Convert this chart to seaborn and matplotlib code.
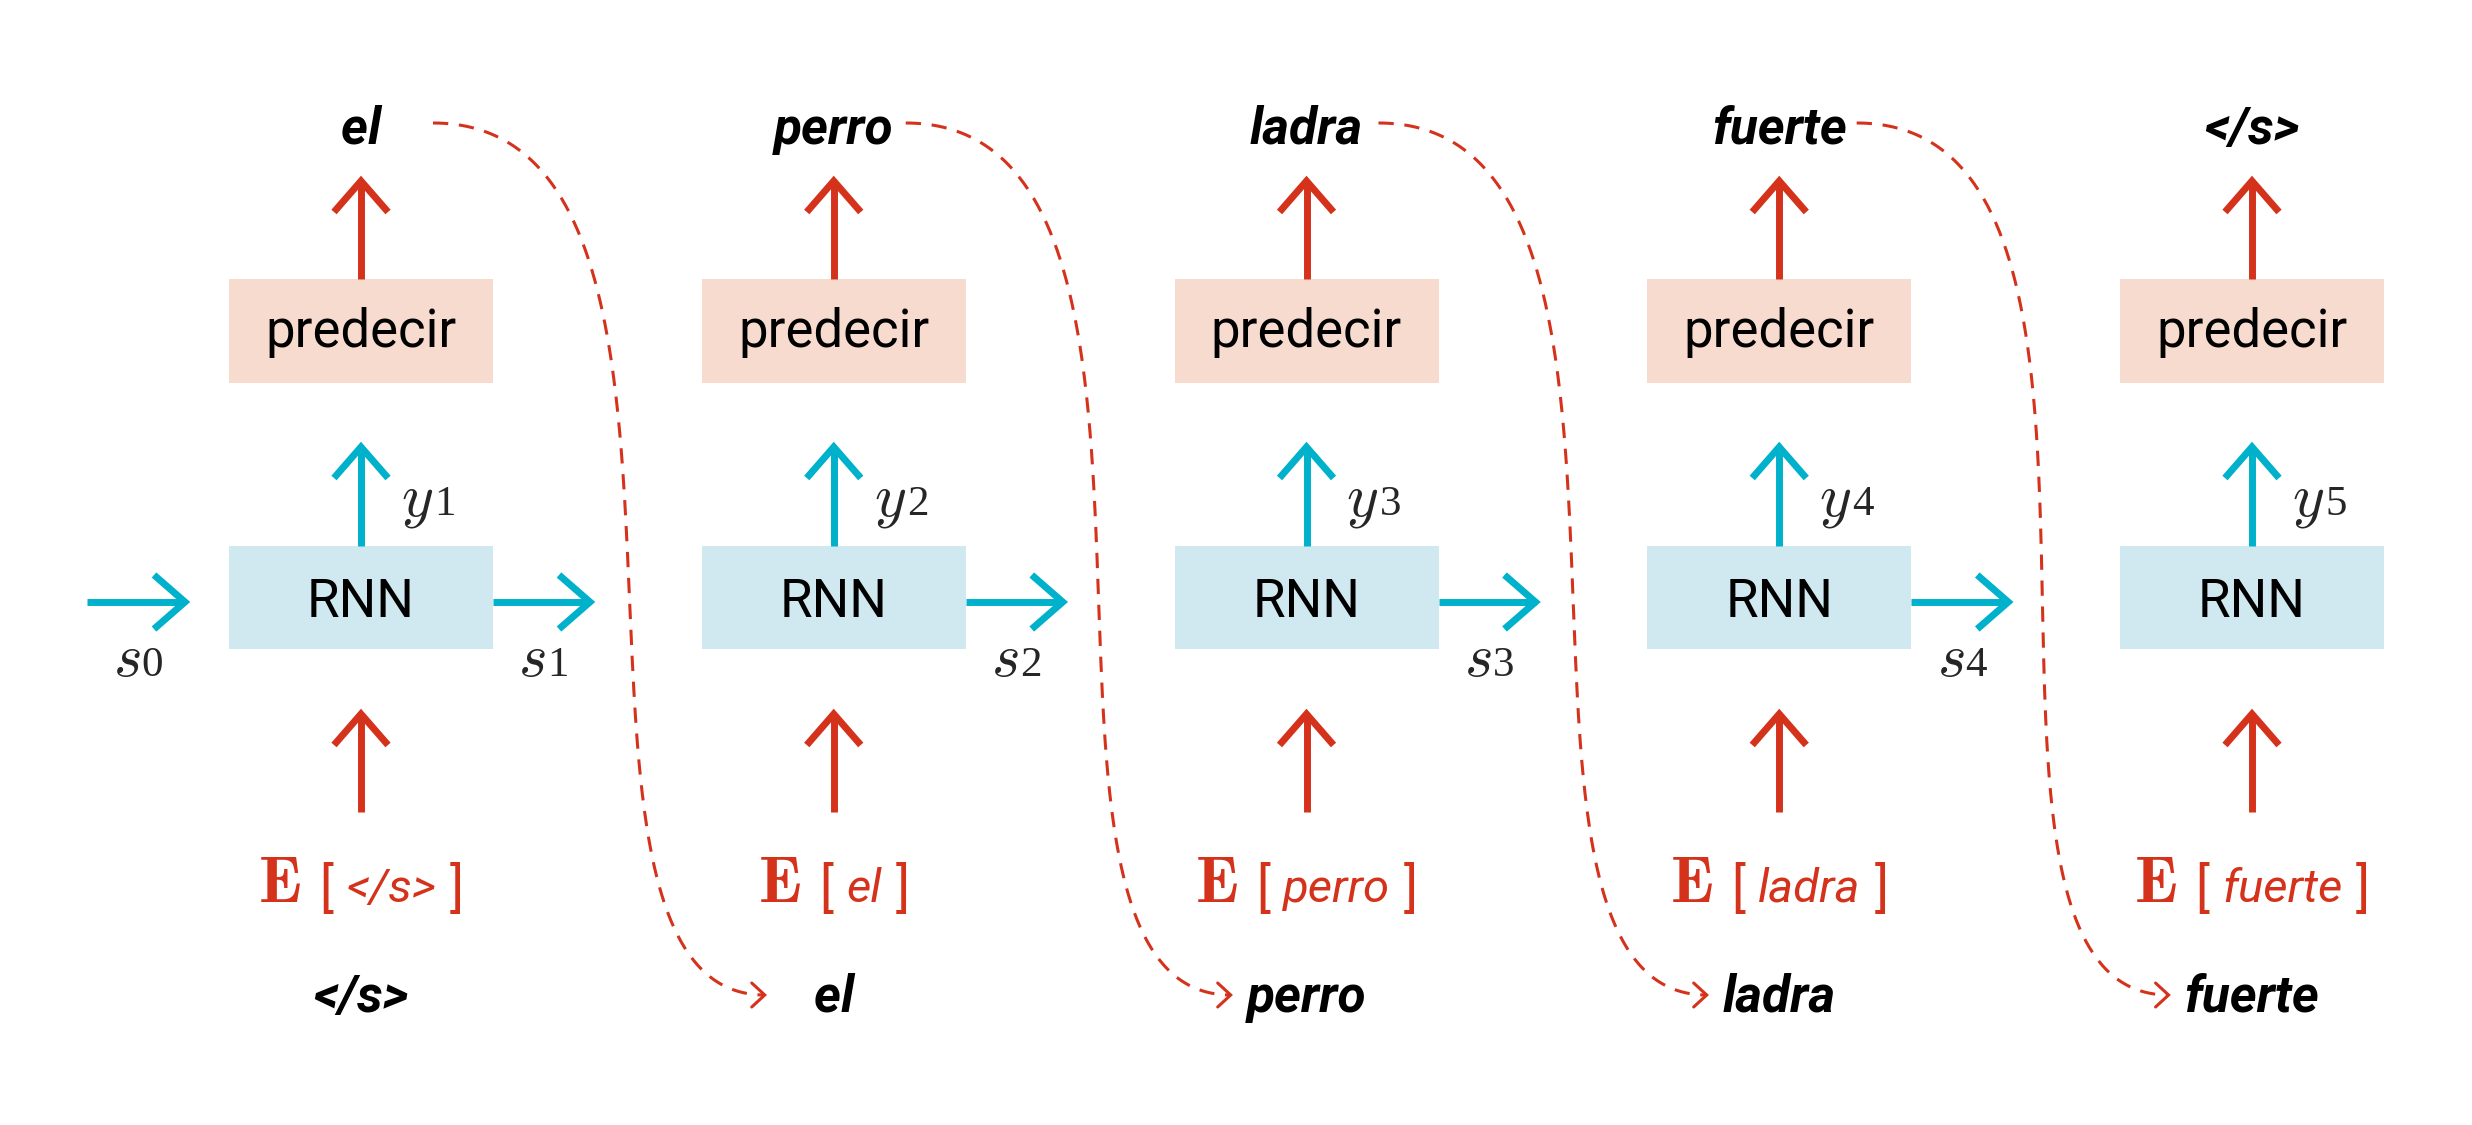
import numpy as np
import matplotlib
matplotlib.use("Agg")
import matplotlib.pyplot as plt
from matplotlib.patches import Rectangle
import seaborn as sns

# --- words of the decoding chain ---
OUTPUT_WORDS = ["el", "perro", "ladra", "fuerte", "</s>"]
INPUT_WORDS = ["</s>", "el", "perro", "ladra", "fuerte"]
Y_INDEX = ["1", "2", "3", "4", "5"]
S_INDEX = ["0", "1", "2", "3", "4"]

RED = "#D5321C"
CYAN = "#00B1CC"
PRED_FILL = "#F7DBCF"
RNN_FILL = "#D0E8EF"

# --- layout (pixels, y grows downwards) ---
X0, STEP, HALF_W = 361, 472.75, 132
PRED_TOP, PRED_BOT = 279, 383
RNN_TOP, RNN_BOT = 546, 649
TOP_WORD_BASE, BOT_WORD_BASE = 144, 1012
EMB_BASE = 902
LW = 5

sns.set_theme(style="white")
plt.rcParams["font.family"] = ["Roboto", "DejaVu Sans"]
plt.rcParams["mathtext.fontset"] = "cm"

fig = plt.figure(figsize=(24.72, 11.25), dpi=100)
ax = fig.add_axes([0, 0, 1, 1])
ax.set_xlim(0, 2472)
ax.set_ylim(1125, 0)
ax.axis("off")
renderer = fig.canvas.get_renderer()


def xspan(t):
    bb = t.get_window_extent(renderer)
    return bb.x0, bb.x1


def arrow(x0, y0, x1, y1, color):
    """Straight arrow with an open chevron head."""
    d = np.array([x1 - x0, y1 - y0], dtype=float)
    d /= np.hypot(*d)
    n = np.array([-d[1], d[0]])
    tip = np.array([x1, y1]) - d * 4
    ax.plot([x0, tip[0]], [y0, tip[1]], color=color, lw=LW, solid_capstyle="butt")
    back = tip - d * 31
    a1, a2 = back + n * 27, back - n * 27
    ax.plot([a1[0], tip[0], a2[0]], [a1[1], tip[1], a2[1]], color=color, lw=LW,
            solid_joinstyle="miter", solid_capstyle="butt")


def label_math(x, y, letter, idx, ha="left"):
    t1 = ax.text(0, y, f"${letter}$", fontsize=44, va="baseline", ha="left")
    t2 = ax.text(0, y, idx, fontsize=31, family="Liberation Serif", va="baseline", ha="left")
    w1 = np.diff(xspan(t1))[0]
    w2 = np.diff(xspan(t2))[0]
    left = x if ha == "left" else x - (w1 + w2 + 1) / 2
    t1.set_x(left)
    t2.set_x(left + w1 + 1)


centers = [X0 + STEP * i for i in range(len(OUTPUT_WORDS))]
top_texts, bot_texts = [], []

for i, c in enumerate(centers):
    # boxes
    ax.add_patch(Rectangle((c - HALF_W, PRED_TOP), 2 * HALF_W, PRED_BOT - PRED_TOP,
                           facecolor=PRED_FILL, edgecolor="none"))
    ax.add_patch(Rectangle((c - HALF_W, RNN_TOP), 2 * HALF_W, RNN_BOT - RNN_TOP,
                           facecolor=RNN_FILL, edgecolor="none"))
    ax.text(c, 347, "predecir", fontsize=38, ha="center", va="baseline", color="black")
    ax.text(c, 617, "RNN", fontsize=38, ha="center", va="baseline", color="black")

    # vertical arrows
    arrow(c, PRED_TOP, c, 177, RED)
    arrow(c, RNN_TOP, c, 443, CYAN)
    arrow(c, 812, c, 710, RED)

    # output word on top, input word at the bottom
    top_texts.append(ax.text(c, TOP_WORD_BASE, OUTPUT_WORDS[i], fontsize=37, fontweight="bold",
                             style="italic", ha="center", va="baseline", color="black"))
    bot_texts.append(ax.text(c, BOT_WORD_BASE, INPUT_WORDS[i], fontsize=37, fontweight="bold",
                             style="italic", ha="center", va="baseline", color="black"))

    # y label next to the cyan arrow
    label_math(c + 40, 515, "y", Y_INDEX[i])

    # E [ word ]
    parts = [
        ax.text(0, EMB_BASE, r"$\mathbf{E}$", fontsize=47, va="baseline", color=RED),
        ax.text(0, EMB_BASE + 4, "[", fontsize=38, va="baseline", color=RED),
        ax.text(0, EMB_BASE, INPUT_WORDS[i], fontsize=34, style="italic",
                va="baseline", color=RED),
        ax.text(0, EMB_BASE + 4, "]", fontsize=38, va="baseline", color=RED),
    ]
    gaps = [18, 13, 14]
    widths = [np.diff(xspan(p))[0] for p in parts]
    total = sum(widths) + sum(gaps)
    x = c - total / 2
    for p, w, g in zip(parts, widths, gaps + [0]):
        p.set_x(x)
        x += w + g

# horizontal state arrows
state_arrows = [(centers[0] - 274, centers[0] - 172)] + \
    [(c + HALF_W, c + 233) for c in centers[:-1]]
for (xa, xb), s in zip(state_arrows, S_INDEX):
    arrow(xa, 602, xb, 602, CYAN)
    label_math((xa + xb) / 2, 676, "s", s, ha="center")

# dashed feedback curves: output word -> next input word
t = np.linspace(0, 1, 200)[:, None]
for i in range(len(centers) - 1):
    top_right = xspan(top_texts[i])[1]
    bot_left = xspan(bot_texts[i + 1])[0]
    p0 = np.array([max(centers[i] + 72, top_right + 10), 123])
    p3 = np.array([min(centers[i + 1] - 69, bot_left - 16), 995])
    p1 = p0 + [330, 0]
    p2 = p3 - [253, 0]
    pts = (1 - t) ** 3 * p0 + 3 * (1 - t) ** 2 * t * p1 + 3 * (1 - t) * t ** 2 * p2 + t ** 3 * p3
    ax.plot(pts[:, 0], pts[:, 1], color=RED, lw=2.2, linestyle=(0, (5, 3.5)))
    ax.plot([p3[0] - 13, p3[0], p3[0] - 13], [p3[1] - 12, p3[1], p3[1] + 12],
            color=RED, lw=2.2, solid_joinstyle="miter")

fig.savefig("out.png", dpi=100, facecolor="white")
